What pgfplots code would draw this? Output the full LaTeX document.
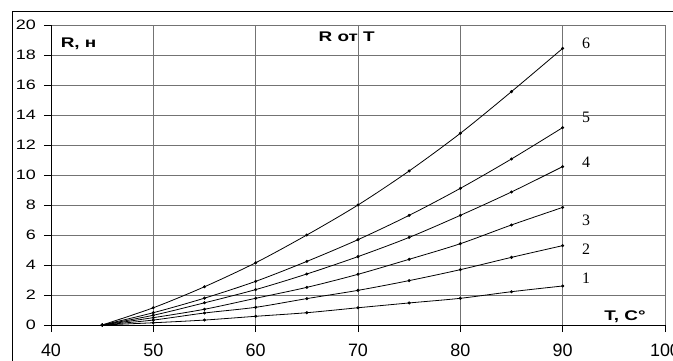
\documentclass[border=0pt]{standalone}
\usepackage{pgfplots}
\pgfplotsset{compat=1.18}
\usepackage{pgfplotstable}
\usepackage{fontspec}
\setmainfont{Liberation Sans}
\newfontfamily\serifnum{Liberation Serif}

\pgfplotstableread{
T    c1    c2    c3    c4     c5     c6
45   0     0     0     0      0      0
50   0.15  0.33  0.49  0.65   0.82   1.15
55   0.33  0.80  1.05  1.48   1.79   2.55
60   0.58  1.18  1.78  2.36   2.91   4.15
65   0.82  1.76  2.51  3.40   4.24   6.00
70   1.15  2.31  3.38  4.56   5.69   8.00
75   1.47  2.96  4.38  5.84   7.31   10.27
80   1.78  3.69  5.42  7.31   9.11   12.78
85   2.22  4.51  6.67  8.87   11.07  15.56
90   2.60  5.29  7.84  10.56  13.16  18.44
}\datatable

\begin{document}
\begin{tikzpicture}
\useasboundingbox (-51bp,-36bp) rectangle (622bp,325bp);
\draw[black, line width=0.8bp] (-39bp,-60bp) -- (-39bp,314bp) -- (700bp,314bp);
\begin{axis}[
  scale only axis,
  width=614bp, height=300bp,
  xmin=40, xmax=100, ymin=0, ymax=20,
  xtick={40,50,...,100},
  ytick={0,2,...,20},
  axis lines=left,
  axis line style={-, black, line width=0.8bp},
  grid=major,
  grid style={draw=black!55, line width=0.8bp},
  tick align=outside,
  major tick length=7bp,
  tick style={black, line width=0.8bp},
  /pgf/number format/assume math mode=true,
  xticklabel style={font=\fontsize{18}{18}\selectfont, inner sep=0pt, yshift=-12bp},
  yticklabel style={font=\fontsize{18}{18}\selectfont, yscale=0.76, inner sep=0pt, xshift=-8bp},
  clip=false,
]
\foreach \c in {c1,c2,c3,c4,c5,c6}{
  \addplot[black, line width=0.8bp, smooth, mark=*, mark size=1.1bp,
    mark options={fill=black}] table[x=T, y=\c] {\datatable};
}
\node[font=\fontsize{19}{19}\selectfont\bfseries, yscale=0.74] at (axis cs:42.7,18.73) {R, н};
\node[font=\fontsize{19}{19}\selectfont\bfseries, yscale=0.74] at (axis cs:68.9,19.2) {R от T};
\node[font=\fontsize{19}{19}\selectfont\bfseries, yscale=0.74] at (axis cs:96.1,0.55) {T, C°};
\node[font=\fontsize{16}{16}\selectfont\serifnum] at (axis cs:92.3,18.8) {6};
\node[font=\fontsize{16}{16}\selectfont\serifnum] at (axis cs:92.3,13.87) {5};
\node[font=\fontsize{16}{16}\selectfont\serifnum] at (axis cs:92.3,10.87) {4};
\node[font=\fontsize{16}{16}\selectfont\serifnum] at (axis cs:92.3,7.0) {3};
\node[font=\fontsize{16}{16}\selectfont\serifnum] at (axis cs:92.3,5.07) {2};
\node[font=\fontsize{16}{16}\selectfont\serifnum] at (axis cs:92.3,3.13) {1};
\end{axis}
\end{tikzpicture}
\end{document}
